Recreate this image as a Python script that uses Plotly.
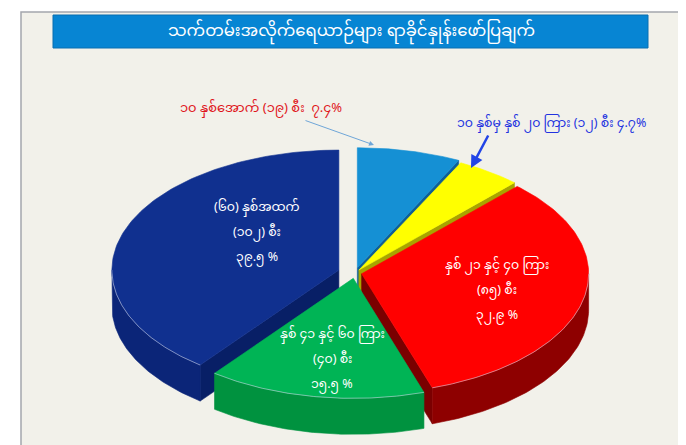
import numpy as np
import plotly.graph_objects as go

# ---------------- data ----------------
title_text = "သက်တမ်းအလိုက်ရေယာဉ်များ ရာခိုင်နှုန်းဖော်ပြချက်"
categories = ["၁၀ နှစ်အောက်", "၁၀ နှစ်မှ နှစ် ၂၀ ကြား", "နှစ် ၂၁ နှင့် ၄၀ ကြား",
              "နှစ် ၄၁ နှင့် ၆၀ ကြား", "(၆၀) နှစ်အထက်"]
ship_counts = [19, 12, 85, 40, 102]
count_labels = ["(၁၉) စီး", "(၁၂) စီး", "(၈၅) စီး", "(၄၀) စီး", "(၁၀၂) စီး"]
percent_labels = ["၇.၄%", "၄.၇%", "၃၂.၉ %", "၁၅.၅ %", "၃၉.၅ %"]

top_colors = ["#1590d4", "#ffff00", "#ff0000", "#00b455", "#10308f"]
wall_colors = ["#0d6aa6", "#b9b500", "#8e0000", "#00923f", "#0b2578"]
face_colors = ["#0f5f96", "#a8a400", "#7a0000", "#007a35", "#081f66"]
pulls = [0.045, 0.03, 0.03, 0.045, 0.075]

# ---------------- geometry ----------------
CX, CY, RX, RY, DEPTH = 347, 265, 227, 120, 36
FONT = "Noto Sans Myanmar, Padauk, Myanmar Text, Noto Sans, sans-serif"

total = sum(ship_counts)
fracs = [v / total for v in ship_counts]
starts = np.concatenate([[0], np.cumsum(fracs)[:-1]]) * 360
ends = np.cumsum(fracs) * 360


def pt(cx, cy, th):
    r = np.radians(th)
    return cx + RX * np.sin(r), cy - RY * np.cos(r)


fig = go.Figure()


def poly(xs, ys, color, name):
    fig.add_trace(go.Scatter(x=list(xs) + [xs[0]], y=list(ys) + [ys[0]], mode="lines",
                             fill="toself", fillcolor=color,
                             line=dict(color=color, width=0.6),
                             hoverinfo="skip", showlegend=False, name=name))


centers = []
for i in range(len(ship_counts)):
    mid = np.radians((starts[i] + ends[i]) / 2)
    cx = CX + pulls[i] * RX * np.sin(mid)
    cy = CY - pulls[i] * RY * np.cos(mid)
    centers.append((cx, cy))

order = [0, 1, 4, 2, 3]  # back to front
for i in order:
    a, b = starts[i], ends[i]
    cx, cy = centers[i]
    # radial faces
    if np.sin(np.radians(b)) > 0.02:
        ex, ey = pt(cx, cy, b)
        poly([cx, ex, ex, cx], [cy, ey, ey + DEPTH, cy + DEPTH], face_colors[i], "face")
    if np.sin(np.radians(a)) < -0.02:
        ex, ey = pt(cx, cy, a)
        poly([cx, ex, ex, cx], [cy, ey, ey + DEPTH, cy + DEPTH], face_colors[i], "face")
    # outer wall (front half)
    wa, wb = max(a, 90), min(b, 270)
    if wb > wa:
        th = np.linspace(wa, wb, 80)
        xs, ys = pt(cx, cy, th)
        poly(np.concatenate([xs, xs[::-1]]), np.concatenate([ys, ys[::-1] + DEPTH]),
             wall_colors[i], "wall")
    # top surface
    th = np.linspace(a, b, 120)
    xs, ys = pt(cx, cy, th)
    poly(np.concatenate([[cx], xs]), np.concatenate([[cy], ys]), top_colors[i], "top")
    if wb > wa:
        th = np.linspace(wa, wb, 80)
        xs, ys = pt(cx, cy, th)
        fig.add_trace(go.Scatter(x=xs, y=ys, mode="lines",
                                 line=dict(color="rgba(210,215,235,0.55)", width=1),
                                 hoverinfo="skip", showlegend=False))

# ---------------- labels ----------------
inside = {2: (489, 258), 3: (324, 327), 4: (249, 200)}
for i, (lx, ly) in inside.items():
    for k, txt in enumerate([categories[i], count_labels[i], percent_labels[i]]):
        fig.add_annotation(x=lx, y=ly + k * 25, text=txt, showarrow=False,
                           font=dict(family=FONT, size=12.5, color="white"))

fig.add_annotation(x=253, y=101,
                   text=f"{categories[0]} {count_labels[0]}  {percent_labels[0]}",
                   showarrow=False, font=dict(family=FONT, size=13, color="#e0151b"))
fig.add_annotation(x=543, y=116,
                   text=f"{categories[1]} {count_labels[1]} {percent_labels[1]}",
                   showarrow=False, font=dict(family=FONT, size=12.5, color="#2233e0"))

fig.add_annotation(x=366, y=137, ax=296, ay=112, xref="x", yref="y", axref="x", ayref="y",
                   showarrow=True, arrowhead=2, arrowsize=1, arrowwidth=1,
                   arrowcolor="#6fa6d8", text="")
fig.add_annotation(x=463, y=160, ax=481, ay=126, xref="x", yref="y", axref="x", ayref="y",
                   showarrow=True, arrowhead=2, arrowsize=1, arrowwidth=2.5,
                   arrowcolor="#2244e6", text="")

fig.add_annotation(x=343, y=23.5, text=title_text, showarrow=False,
                   font=dict(family=FONT, size=16.5, color="white"))

# frame and title bar
fig.add_shape(type="rect", x0=13, y0=4, x1=673, y1=441.5, layer="below",
              fillcolor="#f2f1ea", line=dict(color="#a4a6ad", width=1.5))
fig.add_shape(type="rect", x0=45, y0=7, x1=640, y1=40, layer="below",
              fillcolor="#0785d3", line=dict(color="#0a6fb0", width=1))

fig.update_layout(
    width=686, height=445, margin=dict(l=0, r=0, t=0, b=0),
    paper_bgcolor="white", plot_bgcolor="white",
    xaxis=dict(range=[0, 686], visible=False, fixedrange=True),
    yaxis=dict(range=[445, 0], visible=False, fixedrange=True),
    showlegend=False,
)

fig.write_html("out.html")
